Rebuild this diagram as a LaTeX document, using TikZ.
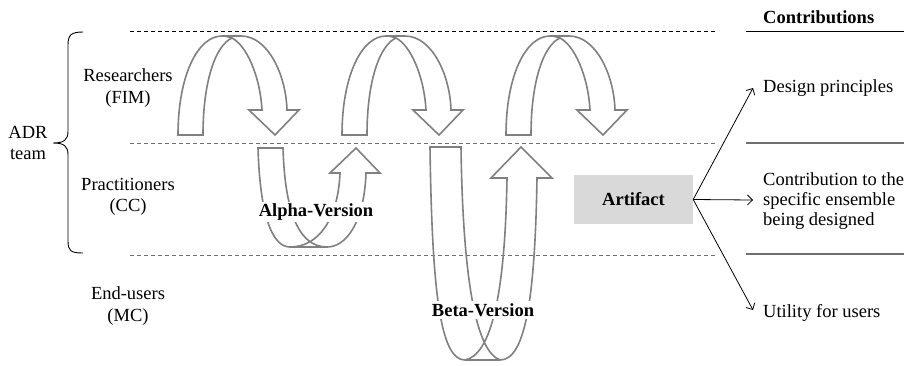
\documentclass[tikz,border=0pt]{standalone}
\usepackage{fontspec}
\setmainfont{Liberation Serif}
\usetikzlibrary{arrows.meta}
\definecolor{arrgray}{HTML}{808080}
\definecolor{linegray}{HTML}{6E6E6E}
\definecolor{boxgray}{HTML}{D9D9D9}
\begin{document}
\begin{tikzpicture}[x=1pt,y=-1pt,
  every node/.style={font=\fontsize{18.5}{21.5}\selectfont, inner sep=0pt},
  bandline/.style={dash pattern=on 4pt off 3pt, line width=1pt},
  ribbon/.style={draw=arrgray, line width=1.6pt, line join=miter},
  lbl/.style={align=center},
  verlbl/.style={font=\fontsize{18.5}{21.5}\selectfont\bfseries, fill=white, inner sep=2pt},
  conn/.style={line width=0.8pt, -{Straight Barb[length=5pt,width=10pt]}},
  contrib/.style={anchor=west, align=left},
  toparc/.pic={
    \draw[ribbon] (0,0) .. controls (0,-60) and (20,-99) .. (44,-99)
      -- (63,-99) .. controls (90,-99) and (108,-60) .. (109,-25)
      -- (121,-25) -- (97,0) -- (71,-25) -- (84,-25)
      .. controls (82,-60) and (68,-90) .. (54,-97)
      .. controls (38,-90) and (25,-55) .. (25,0) -- cycle;
    \draw[ribbon] (44,-99) .. controls (48,-99) and (51,-98) .. (54,-97);
  }
]
\useasboundingbox (0,0) rectangle (904,365);

% band lines
\draw[bandline, black] (130,31) -- (716,31);
\draw[bandline, linegray] (130,143) -- (716,143);
\draw[bandline, linegray] (130,255) -- (716,255);

% contribution lines
\draw[line width=1pt, black] (746,31) -- (904,31);
\draw[line width=1.2pt, linegray] (746,143) -- (904,143);
\draw[line width=1.2pt, linegray] (746,254) -- (904,254);

% left labels
\node[lbl] (res) at (128,88) {Researchers\\(FIM)};
\node[lbl] (pra) at (128,197) {Practitioners\\(CC)};
\node[lbl] (end) at (128,306) {End-users\\(MC)};
\node[lbl] (adr) at (28,143) {ADR\\team};

% brace
\draw[line width=0.9pt] (83,32) .. controls (71,32) and (68,35) .. (68,45)
  -- (68,131) .. controls (68,140) and (64,143) .. (53,143)
  .. controls (64,143) and (68,146) .. (68,155)
  -- (68,241) .. controls (68,251) and (71,253) .. (83,253);

% top arcs
\pic at (178,135) {toparc};
\pic at (342,135) {toparc};
\pic at (506,135) {toparc};

% Alpha U-arrow
\draw[ribbon] (258,148) -- (283,148)
  .. controls (285,215) and (300,247) .. (327,247)
  .. controls (345,247) and (364,225) .. (366,173)
  -- (380,173) -- (356,148) -- (330,173) -- (340,173)
  .. controls (338,220) and (318,247) .. (290,247)
  .. controls (272,247) and (260,215) .. (258,148) -- cycle;
\draw[ribbon] (290,247) -- (327,247);
\node[verlbl] (alpha) at (316,212) {Alpha-Version};

% Beta U-arrow
\draw[ribbon] (430,147) -- (461,147)
  .. controls (463,290) and (478,352) .. (500,360)
  .. controls (525,360) and (535,300) .. (537,178)
  -- (552,178) -- (521,147) -- (491,178) -- (507,178)
  .. controls (505,300) and (490,355) .. (465,360)
  .. controls (440,360) and (432,290) .. (430,147) -- cycle;
\draw[ribbon] (465,360) -- (500,360);
\node[verlbl] (beta) at (483,310) {Beta-Version};

% Artifact
\node[fill=boxgray, minimum width=119pt, minimum height=49pt, font=\fontsize{18.5}{21.5}\selectfont\bfseries] (art) at (633.5,199.5) {Artifact};

% contributions
\node[contrib, font=\fontsize{18.5}{21.5}\selectfont\bfseries] (ctitle) at (763,17) {Contributions};
\node[contrib] (dp) at (763,88) {Design principles};
\node[contrib, font=\fontsize{18.5}{20}\selectfont] (ens) at (763,201) {Contribution to the\\specific ensemble\\being designed};
\node[contrib] (util) at (763,313) {Utility for users};

\coordinate (dpend) at (753,88);
\coordinate (ensend) at (753,200);
\coordinate (utilend) at (753,310);
\draw[conn] (art.east) -- (dpend);
\draw[conn] (art.east) -- (ensend);
\draw[conn] (art.east) -- (utilend);
\end{tikzpicture}
\end{document}
